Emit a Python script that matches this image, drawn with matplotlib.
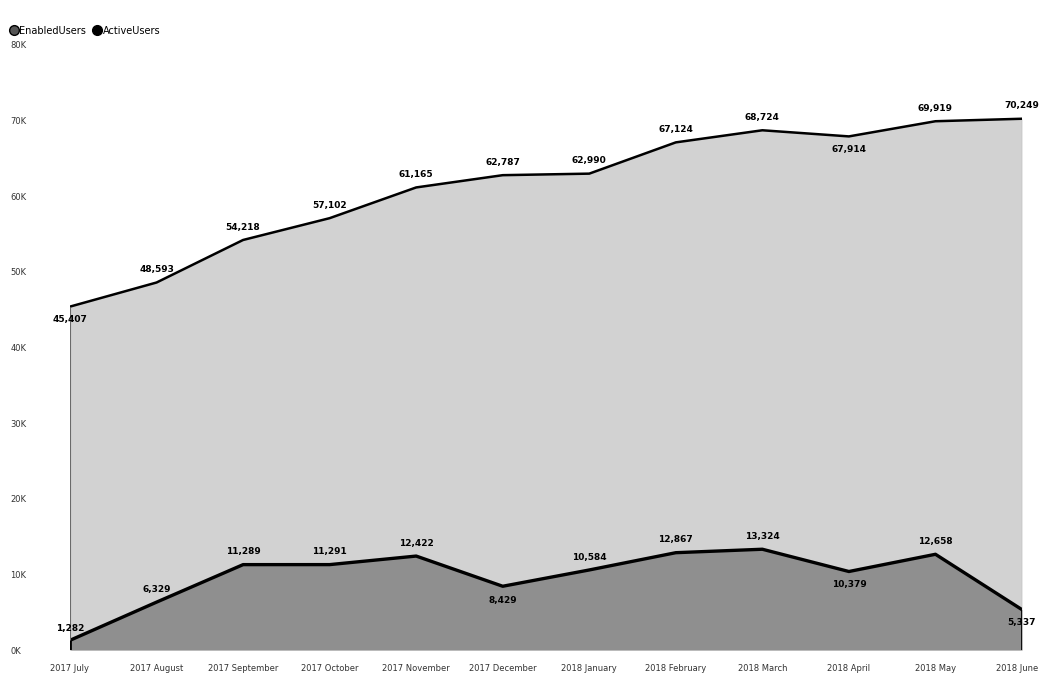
import matplotlib.pyplot as plt
from matplotlib.lines import Line2D
from matplotlib.ticker import FuncFormatter
from matplotlib.transforms import ScaledTranslation

months = ["2017 July", "2017 August", "2017 September", "2017 October",
          "2017 November", "2017 December", "2018 January", "2018 February",
          "2018 March", "2018 April", "2018 May", "2018 June"]
enabled_users = [45407, 48593, 54218, 57102, 61165, 62787,
                 62990, 67124, 68724, 67914, 69919, 70249]
active_users = [1282, 6329, 11289, 11291, 12422, 8429,
                10584, 12867, 13324, 10379, 12658, 5337]

# where each label sits relative to its point: (dx, dy) in points
enabled_offsets = [(0, -6), (0, 6), (0, 6), (0, 6), (0, 6), (0, 6),
                   (0, 6), (0, 6), (0, 6), (0, -6), (0, 6), (0, 6)]
active_offsets = [(0, 5), (0, 6), (0, 6), (0, 6), (0, 6), (0, -7),
                  (0, 6), (0, 6), (0, 6), (0, -6), (0, 6), (0, -6)]

fig = plt.figure(figsize=(10.4, 6.75), dpi=100)
ax = fig.add_axes([70 / 1040, 1 - 650 / 675, (1022 - 70) / 1040, (650 - 45) / 675])

x = list(range(len(months)))
ax.fill_between(x, 0, enabled_users, color="#d2d2d2", linewidth=0)
ax.fill_between(x, 0, active_users, color="#8f8f8f", linewidth=0)
ax.plot(x, enabled_users, color="black", linewidth=1.8)
ax.plot(x, active_users, color="black", linewidth=2.4)
ax.vlines([x[0], x[-1]], 0, [active_users[0], active_users[-1]], color="black", linewidth=2)
ax.vlines([x[0], x[-1]], [active_users[0], active_users[-1]],
          [enabled_users[0], enabled_users[-1]], color="#6a6a6a", linewidth=0.8)

for i in x:
    ax.annotate(f"{enabled_users[i]:,}", (i, enabled_users[i]), xytext=enabled_offsets[i],
                textcoords="offset points", ha="center", va="bottom" if enabled_offsets[i][1] > 0 else "top",
                fontsize=6.5, fontweight="bold", color="black")
    ax.annotate(f"{active_users[i]:,}", (i, active_users[i]), xytext=active_offsets[i],
                textcoords="offset points", ha="center", va="bottom" if active_offsets[i][1] > 0 else "top",
                fontsize=6.5, fontweight="bold", color="black")

ax.set_xlim(0, len(months) - 1)
ax.set_ylim(0, 80000)
ax.set_yticks(range(0, 80001, 10000))
ax.yaxis.set_major_formatter(FuncFormatter(lambda v, p: f"{int(v / 1000)}K"))
ax.set_xticks(x)
ax.set_xticklabels(months)
ax.tick_params(axis="both", length=0, labelsize=6, labelcolor="#333333")
ax.tick_params(axis="y", pad=43)
ax.tick_params(axis="x", pad=10)
for lbl in ax.get_yticklabels():
    lbl.set_horizontalalignment("left")
# keep the last month label inside the figure edge
last = ax.get_xticklabels()[-1]
last.set_horizontalalignment("right")
last.set_transform(last.get_transform() + ScaledTranslation(16 / 100, 0, fig.dpi_scale_trans))
for s in ax.spines.values():
    s.set_visible(False)

handles = [Line2D([], [], marker="o", linestyle="", markersize=7,
                  markerfacecolor="#555555", markeredgecolor="black"),
           Line2D([], [], marker="o", linestyle="", markersize=7,
                  markerfacecolor="black", markeredgecolor="black")]
fig.legend(handles, ["EnabledUsers", "ActiveUsers"], loc="upper left",
           bbox_to_anchor=(0.0, 0.975), ncol=2, frameon=False, fontsize=7,
           handletextpad=0.1, columnspacing=0.6, handlelength=1.0)

fig.savefig("out.png", dpi=100)
